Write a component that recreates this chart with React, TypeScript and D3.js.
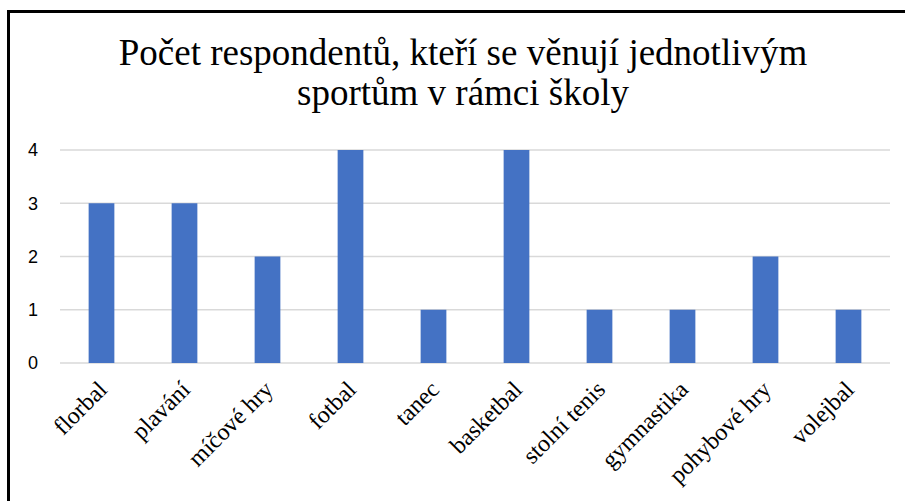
import React from 'react'
import * as d3 from 'd3'

const categories = ['florbal', 'plavání', 'míčové hry', 'fotbal', 'tanec', 'basketbal', 'stolní tenis', 'gymnastika', 'pohybové hry', 'volejbal']
const counts = [3, 3, 2, 4, 1, 4, 1, 1, 2, 1]
const yTicks = [0, 1, 2, 3, 4]
const titleLines = ['Počet respondentů, kteří se věnují jednotlivým', 'sportům v rámci školy']

const W = 905
const H = 501

export default function App() {
    const x = d3.scaleBand<string>()
        .domain(categories)
        .range([60, 890])
        .paddingInner(0.69)
        .paddingOuter(0.345)

    const y = d3.scaleLinear()
        .domain([0, 4])
        .range([363, 150])

    return (
        <svg width={W} height={H} style={{ position: 'absolute', left: 0, top: 0, background: '#fff' }}>
            <rect x={0} y={0} width={W} height={H} fill="#fff" />
            {/* frame, only top and left visible */}
            <line x1={7} y1={11.5} x2={W} y2={11.5} stroke="#000" strokeWidth={3} />
            <line x1={8.5} y1={10} x2={8.5} y2={H} stroke="#000" strokeWidth={3} />

            <g fontFamily="'Liberation Serif', 'Times New Roman', serif" fontSize={37} fill="#000" textAnchor="middle">
                {titleLines.map((t, i) => (
                    <text key={i} x={463} y={65 + i * 40}>{t}</text>
                ))}
            </g>

            {/* grid */}
            <g stroke="#d9d9d9" strokeWidth={1.5}>
                {yTicks.map(t => (
                    <line key={t} x1={60} x2={890} y1={y(t)} y2={y(t)} />
                ))}
            </g>

            {/* y labels */}
            <g fontFamily="'Liberation Sans', Arial, sans-serif" fontSize={18} fill="#000" textAnchor="end">
                {yTicks.map(t => (
                    <text key={t} x={38} y={y(t)} dy="0.36em">{t}</text>
                ))}
            </g>

            {/* bars */}
            <g fill="#4472c4">
                {categories.map((c, i) => (
                    <rect key={c} x={x(c)} width={x.bandwidth()} y={y(counts[i])} height={y(0) - y(counts[i])} />
                ))}
            </g>

            {/* x labels */}
            <g fontFamily="'Liberation Serif', 'Times New Roman', serif" fontSize={24} fill="#000" textAnchor="end">
                {categories.map(c => {
                    const cx = (x(c) as number) + x.bandwidth() / 2
                    return (
                        <text key={c} transform={`translate(${cx + 7},${391}) rotate(-45)`}>{c}</text>
                    )
                })}
            </g>
        </svg>
    )
}
